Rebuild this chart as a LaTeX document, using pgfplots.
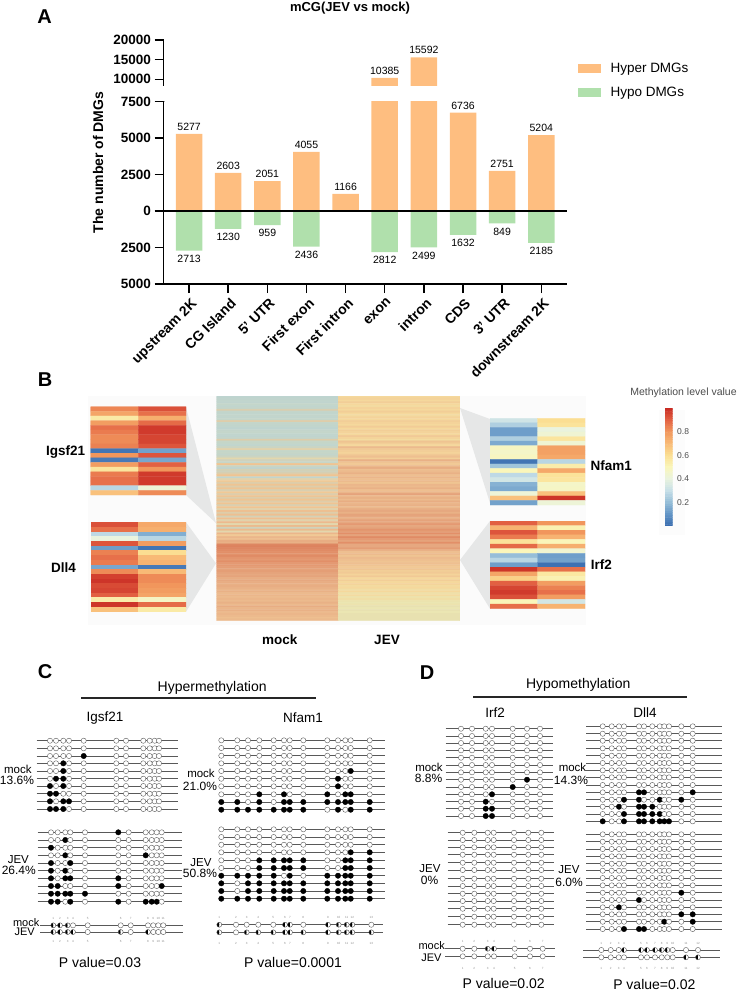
\documentclass[border=0pt]{standalone}
\usepackage{fontspec}
\setmainfont{Liberation Sans}
\usepackage{pgfplots}
\usepackage{pgfplotstable}
\pgfplotsset{compat=1.18,/pgf/number format/assume math mode=true,/pgf/number format/1000 sep={}}
\definecolor{hyper}{RGB}{254,190,128}
\definecolor{hypo}{RGB}{176,224,172}
\definecolor{conn}{RGB}{230,231,231}
\newcommand{\fs}[1]{\fontsize{#1}{#1}\selectfont}
\pgfplotsset{
  colormap={rdylbu}{rgb255=(58,109,176) rgb255=(100,150,198) rgb255=(150,190,216) rgb255=(200,224,232) rgb255=(234,243,222) rgb255=(250,246,186) rgb255=(251,222,146) rgb255=(248,186,118) rgb255=(241,150,92) rgb255=(226,96,66) rgb255=(200,42,34)},
  colormap={muted}{rgb255=(184,210,216) rgb255=(190,212,208) rgb255=(198,214,200) rgb255=(222,205,170) rgb255=(235,230,178) rgb255=(245,216,156) rgb255=(238,191,144) rgb255=(230,168,128) rgb255=(226,143,104) rgb255=(217,122,88) rgb255=(205,100,70)},
  heatax/.style={anchor=north west,scale only axis,hide axis,y dir=reverse,xmin=-0.5,xmax=1.5,point meta min=0,point meta max=1},
  rowline/.style={black!65,line width=.7pt,forget plot},
  meth/.style={only marks,scatter,scatter src=explicit symbolic,forget plot,
    scatter/classes={
      0={mark=*,draw=black!65,fill=white,mark size=2.6pt,line width=.4pt},
      1={mark=*,draw=black,fill=black,mark size=2.7pt},
      2={mark=halfcircle*,draw=black!70,fill=black,mark size=2.5pt,line width=.4pt,rotate=90}}},
}
% reads as rows, CpG sites as columns; 0 open, 1 methylated, 2 partly methylated (summary rows)
\newcommand{\methrows}[4]{%
  \pgfplotstableforeachcolumnelement{r}\of#1\as\yy{%
    \edef\tmp{\noexpand\addplot[rowline] coordinates {(#2,\yy)(#3,\yy)};}\tmp}%
  \foreach \xx [count=\cc] in {#4} {%
    \edef\tmp{\noexpand\addplot[meth] table[x expr=\xx,y=r,meta index=\cc] {\noexpand#1};}\tmp}%
}
\newcommand{\sitenums}[4]{% sites, y above, y below, colour
  \foreach \xx [count=\cc] in {#1} {%
    \edef\tmp{\noexpand\node[font=\noexpand\fs{3},text=#4,inner sep=0pt] at (axis cs:\xx,#2) {\cc};
      \noexpand\node[font=\noexpand\fs{3},text=#4,inner sep=0pt] at (axis cs:\xx,#3) {\cc};}\tmp}%
}
\newcommand{\T}[4]{\node[font=\fs{#3},inner sep=0pt] at (axis cs:#1,#2) {#4};}
\newcommand{\heat}[8]{%
  \begin{axis}[heatax,at={(#1pt,-#2pt)},width=#3pt,height=#4pt,ymin=-0.5,ymax=#5,colormap name=#6]
  \addplot[#8,mesh/cols=2,point meta=explicit] coordinates {#7};
  \end{axis}}

\pgfplotstableread{
r a b c d e f g h i j k
740.7 0 0 0 0 0 0 0 0 0 0 0
748.3 0 0 0 0 0 0 0 0 0 0 0
756.0 0 0 0 0 1 0 0 0 0 0 0
763.3 0 0 1 0 0 0 0 0 0 0 0
771.0 0 0 1 0 0 0 0 0 0 0 0
778.7 0 1 1 0 0 0 0 0 0 0 0
786.0 1 0 1 0 0 0 0 0 0 0 0
793.7 1 1 0 0 0 0 0 0 0 0 0
801.3 1 0 1 1 0 0 0 0 0 0 0
809.0 1 1 1 0 0 0 0 0 0 0 0
}\igsfmock
\pgfplotstableread{
r a b c d e f g h i j k
832.3 0 0 0 0 0 1 0 0 0 0 0
840.0 0 0 1 0 0 0 0 0 0 0 0
847.7 1 0 0 0 0 0 0 0 0 0 0
855.3 0 0 1 0 0 0 0 1 0 0 0
863.0 1 0 0 1 0 0 0 0 0 0 0
870.7 1 0 1 0 0 0 0 0 0 0 0
878.3 1 0 1 1 0 1 0 0 0 0 0
886.0 1 1 0 0 0 1 0 0 0 0 1
893.7 1 1 1 1 1 0 0 0 0 0 0
901.7 1 1 0 1 0 1 0 1 1 1 0
}\igsfjev
\pgfplotstableread{
r a b c d e f g h i j k
925.3 2 2 2 0 0 0 0 0 0 0 0
932.0 2 2 2 2 0 2 0 2 0 0 0
}\igsfsum
\pgfplotstableread{
r a b c d e f g h i j k l m
740.3 0 0 0 0 0 0 0 0 0 0 0 0 0
748.0 0 0 0 0 0 0 0 0 0 0 0 0 0
755.7 0 0 0 0 0 0 0 0 0 0 0 0 0
763.3 0 0 0 0 0 0 0 0 0 0 0 0 0
771.0 0 0 0 0 0 0 0 0 0 0 0 1 0
778.7 0 0 0 0 0 0 0 0 0 1 0 0 0
786.3 0 0 0 0 0 0 0 0 0 1 0 0 0
794.3 0 0 0 1 0 1 0 0 1 0 1 1 0
802.0 1 1 0 1 0 1 1 1 1 1 1 1 1
809.7 1 1 1 1 1 1 1 1 0 1 0 1 1
}\nfammock
\pgfplotstableread{
r a b c d e f g h i j k l m
829.3 0 0 0 0 0 0 0 0 0 0 0 0 0
837.0 0 0 0 0 0 0 0 0 0 0 0 0 0
844.7 0 0 0 0 0 0 0 0 0 0 0 0 0
852.3 0 0 0 0 0 0 0 0 0 0 0 1 1
860.3 0 0 0 1 1 1 1 1 0 0 1 1 1
868.0 0 0 0 1 1 1 1 1 0 0 1 1 1
875.7 1 1 1 1 1 0 1 0 1 1 1 1 1
883.3 1 0 1 1 1 1 1 1 1 1 1 1 1
891.0 1 0 1 1 1 1 1 1 1 1 1 1 1
898.7 1 1 1 1 1 1 1 1 1 1 1 1 1
}\nfamjev
\pgfplotstableread{
r a b c d e f g h i j k l m
924.7 2 0 0 0 0 2 2 0 2 2 2 2 0
932.3 2 0 2 2 2 2 2 2 2 2 2 2 2
}\nfamsum
\pgfplotstableread{
r a b c d e f g
728.7 0 0 0 0 0 0 0
736.0 0 0 0 0 0 0 0
743.0 0 0 0 0 0 0 0
750.3 0 0 0 0 0 0 0
757.7 0 0 0 0 0 0 0
765.0 0 0 0 0 0 0 0
772.3 0 0 0 0 0 0 0
779.7 0 0 0 0 0 1 0
787.0 0 0 0 0 1 0 0
794.3 0 0 0 1 0 0 0
801.7 0 0 1 0 0 0 0
808.7 0 0 1 1 0 0 0
816.0 0 0 1 1 0 0 0
}\irfmock
\pgfplotstableread{
r a b c d e f g
832.7 0 0 0 0 0 0 0
840.0 0 0 0 0 0 0 0
847.3 0 0 0 0 0 0 0
854.7 0 0 0 0 0 0 0
862.7 0 0 0 0 0 0 0
870.0 0 0 0 0 0 0 0
878.7 0 0 0 0 0 0 0
886.0 0 0 0 0 0 0 0
893.7 0 0 0 0 0 0 0
901.0 0 0 0 0 0 0 0
908.7 0 0 0 0 0 0 0
916.7 0 0 0 0 0 0 0
924.7 0 0 0 0 0 0 0
}\irfjev
\pgfplotstableread{
r a b c d e f g
948.7 0 0 2 2 0 0 0
956.3 0 0 0 0 0 0 0
}\irfsum
\pgfplotstableread{
r a b c d e f g h i j k l
726.3 0 0 0 0 0 0 0 0 0 0 0 0
733.7 0 0 0 0 0 0 0 0 0 0 0 0
740.7 0 0 0 0 0 0 0 0 0 0 0 0
748.3 0 0 0 0 0 0 0 0 0 0 0 0
755.7 0 0 0 0 0 0 0 0 0 0 0 0
763.0 0 0 0 0 0 0 0 0 0 0 0 0
770.3 0 0 0 0 0 0 0 0 0 0 0 0
777.3 0 0 0 0 0 0 0 0 0 0 0 0
785.0 0 0 0 0 0 0 0 0 0 0 0 0
792.3 0 0 0 0 1 1 0 0 0 0 0 1
799.7 0 0 0 1 1 0 0 1 0 0 1 0
806.7 0 0 1 0 1 1 1 0 0 0 0 0
814.0 0 0 0 1 1 1 1 1 0 0 0 0
821.3 1 0 0 1 1 1 1 1 1 1 0 0
}\dllmock
\pgfplotstableread{
r a b c d e f g h i j k l
834.3 0 0 0 0 0 0 0 0 0 0 0 0
841.7 0 0 0 0 0 0 0 0 0 0 0 0
849.0 0 0 0 0 0 0 0 0 0 0 0 0
856.3 0 0 0 0 0 0 0 0 0 0 0 0
863.7 0 0 0 0 0 0 0 0 0 0 0 0
870.7 0 0 0 0 0 0 0 0 0 0 0 0
878.0 0 0 0 0 0 0 0 0 0 0 0 0
885.3 0 0 0 0 0 0 0 0 0 0 0 0
892.7 0 0 0 0 0 0 0 0 0 0 1 0
900.0 0 0 0 0 1 0 0 0 0 0 0 0
907.3 0 0 1 0 0 0 0 0 0 0 0 0
914.3 0 0 0 0 0 0 0 0 0 0 1 1
921.7 0 0 0 0 0 0 0 0 1 0 0 1
929.0 0 0 0 1 1 1 0 0 0 0 0 0
}\dlljev
\pgfplotstableread{
r a b c d e f g h i j k l
950.0 0 0 0 2 2 2 2 2 2 0 0 0
957.3 0 0 0 0 0 0 0 0 0 0 2 2
}\dllsum

\begin{document}
\begin{tikzpicture}
\useasboundingbox (0,0) rectangle (743pt,-992pt);
% page overlay, in reference pixels: backgrounds, text, panels C and D
\begin{axis}[anchor=north west,at={(0pt,0pt)},scale only axis,width=743pt,height=992pt,hide axis,
  xmin=0,xmax=743,ymin=0,ymax=992,y dir=reverse,clip=false]
\addplot[fill=black!1.5,draw=none,forget plot] coordinates {(88,396)(586,396)(586,625)(88,625)} -- cycle;
\addplot[fill=black!1,draw=none,forget plot] coordinates {(659,410)(685,410)(685,535)(659,535)} -- cycle;
\addplot[fill=conn,draw=none,forget plot] coordinates {(186,407)(216,523)(186,495)} -- cycle;
\addplot[fill=conn,draw=none,forget plot] coordinates {(186,522.3)(216,563.3)(186,611.7)} -- cycle;
\addplot[fill=conn,draw=none,forget plot] coordinates {(460,408)(490,419)(490,503)} -- cycle;
\addplot[fill=conn,draw=none,forget plot] coordinates {(490,521)(460,560)(490,608.7)} -- cycle;

\T{44.5}{17}{20}{\bfseries A}
\T{45}{380}{20}{\bfseries B}
\T{45}{671.5}{20}{\bfseries C}
\T{427}{673}{20}{\bfseries D}
\T{350}{8}{13}{\bfseries mCG(JEV vs mock)}
\node[rotate=90,font=\fs{14}\bfseries,inner sep=0pt] at (axis cs:98,162.5) {The number of DMGs};

\T{65.7}{452}{13.5}{\bfseries Igsf21}
\T{63.4}{568}{13.5}{\bfseries Dll4}
\T{611.3}{465.7}{13.5}{\bfseries Nfam1}
\T{601.3}{565}{13.5}{\bfseries Irf2}
\T{279.7}{640}{13.5}{\bfseries mock}
\T{387}{640}{13.5}{\bfseries JEV}
\node[font=\fs{10.5},text=black!70,inner sep=0pt] at (axis cs:683.5,392.7) {Methylation level value};

\draw[line width=2pt,black!85] (axis cs:81,697.7) -- (axis cs:316,697.7);
\draw[line width=2pt,black!85] (axis cs:473,697.3) -- (axis cs:686.7,697.3);
\T{212.2}{687.7}{14}{Hypermethylation}
\T{578.2}{685}{14}{Hypomethylation}
\T{105}{717.7}{13.5}{Igsf21}
\T{303}{717.7}{13.5}{Nfam1}
\T{495}{712.7}{13.5}{Irf2}
\T{645}{712.3}{13.5}{Dll4}
\T{100}{962}{14}{P value=0.03}
\T{293}{962}{14}{P value=0.0001}
\T{503.7}{983.5}{14}{P value=0.02}
\T{654.3}{984.5}{14}{P value=0.02}

\T{17.8}{769}{11.5}{mock}
\T{17}{780}{12}{13.6\%}
\T{18.3}{859.3}{11.5}{JEV}
\T{18.8}{870.7}{12}{26.4\%}
\T{201}{773}{11.5}{mock}
\T{200}{786.7}{12}{21.0\%}
\T{201}{862.7}{11.5}{JEV}
\T{200}{873}{12}{50.8\%}
\T{429}{767}{11.5}{mock}
\T{428.5}{778.3}{12}{8.8\%}
\T{430}{869}{11.5}{JEV}
\T{429.5}{880}{12}{0\%}
\T{572.5}{767}{11.5}{mock}
\T{571}{780.7}{12}{14.3\%}
\T{569}{870}{11.5}{JEV}
\T{569}{882.3}{12}{6.0\%}
\node[font=\fs{11},anchor=east,inner sep=0pt] at (axis cs:39.5,923) {mock};
\node[font=\fs{11},anchor=east,inner sep=0pt] at (axis cs:35,932) {JEV};
\node[font=\fs{11},anchor=east,inner sep=0pt] at (axis cs:445,946) {mock};
\node[font=\fs{11},anchor=east,inner sep=0pt] at (axis cs:441.7,957.3) {JEV};

\methrows{\igsfmock}{36.7}{178.3}{50,56,63.3,69,83.7,116.3,126,143.3,149.7,154.7,159}
\methrows{\igsfjev}{37.7}{182.3}{51,57.7,65.3,70.3,85,118.3,128.7,145.7,151.7,156.7,161.7}
\methrows{\igsfsum}{40}{183}{53.3,60,67.7,73,87.7,120.7,130.7,148,153.3,158.3,163.3}
\sitenums{53.3,60,67.7,73,87.7,120.7,130.7,148,153.3,158.3,163.3}{918.7}{941.7}{black!45}
\methrows{\nfammock}{221}{385}{221.3,237.3,248,259.3,273.7,284,289.7,303.3,327.3,338,345.3,350.7,369.7}
\methrows{\nfamjev}{221}{385}{221.3,237.3,248,259.3,273.7,284,289.7,303.3,327.3,338,345.3,350.7,369.7}
\methrows{\nfamsum}{216.7}{382.7}{219.3,236,246.7,258.3,273.3,285,290,303.3,328,338.7,346.7,352.3,371.3}
\sitenums{219.3,236,246.7,258.3,273.3,285,290,303.3,328,338.7,346.7,352.3,371.3}{917}{943}{black!45}
\methrows{\irfmock}{445.7}{552.7}{461,472,485.7,492,512.7,527,540}
\methrows{\irfjev}{447.7}{554}{462.7,474.3,487.7,493.7,514,528.3,541.3}
\methrows{\irfsum}{445}{555}{462.7,474.3,487.7,494,514.7,530,542.7}
\sitenums{462.7,474.3,487.7,494,514.7,530,542.7}{941}{968.3}{black!45}
\methrows{\dllmock}{586}{722.3}{602.7,611.7,619,624,639,644,652.3,659.7,664.3,669,681.3,692.7}
\methrows{\dlljev}{586}{722.3}{602.7,611.7,619,624,639,644,652.3,659.7,664.3,669,681.3,692.7}
\methrows{\dllsum}{583}{720}{601.3,610.7,618.7,624,641,647,655,661.7,667.3,672.7,686,698}
\sitenums{601.3,610.7,618.7,624,641,647,655,661.7,667.3,672.7,686,698}{943.3}{968.7}{black!45}
\end{axis}

% panel A, upper part of the broken axis
\begin{axis}[anchor=north west,at={(163.5pt,-40pt)},scale only axis,width=403.9pt,height=46pt,
  xmin=-0.654,xmax=9.668,ymin=8300,ymax=20000,axis y line*=left,axis x line=none,
  ytick={10000,15000,20000},yticklabels={10000,15000,20000},scaled y ticks=false,
  tick align=outside,major tick length=9pt,tick style={black,line width=1.5pt},
  axis line style={line width=1.5pt},y tick label style={font=\fs{13.5}\bfseries},
  ybar,bar width=26.5pt,
  nodes near coords,nodes near coords style={font=\fs{10.5},black},point meta=y]
\addplot[fill=hyper,draw=none,bar shift=0pt] coordinates {(5,10385) (6,15592)};
\draw[line width=1.5pt] (rel axis cs:0,0) ++(-5pt,0) -- ++(10pt,0);
\end{axis}

% panel A, lower part
\begin{axis}[anchor=north west,at={(163.5pt,-101.5pt)},scale only axis,width=403.9pt,height=182.5pt,
  xmin=-0.654,xmax=9.668,ymin=-5000,ymax=7500,axis lines*=left,
  ytick={-5000,-2500,0,2500,5000,7500},yticklabels={5000,2500,0,2500,5000,7500},
  xtick={0,...,9},xticklabels={upstream 2K,CG Island,5' UTR,First exon,First intron,exon,intron,CDS,3' UTR,downstream 2K},
  x tick label style={rotate=45,anchor=north east,font=\fs{14}\bfseries,inner sep=1pt,yshift=-3pt,xshift=-1pt},
  y tick label style={font=\fs{13.5}\bfseries},
  tick align=outside,major tick length=9pt,tick style={black,line width=1.5pt},
  axis line style={line width=1.5pt},
  ybar,bar width=26.5pt,
  legend style={at={(1.026,1.222)},anchor=north west,draw=none,fill=none,font=\fs{13.5},row sep=9pt,inner sep=0pt},
  legend cell align=left]
\addlegendimage{legend image code/.code={\fill[hyper] (0pt,-4pt) rectangle (22pt,4pt);}}
\addlegendimage{legend image code/.code={\fill[hypo] (0pt,-4pt) rectangle (22pt,4pt);}}
\addlegendentry{\hspace*{8pt}Hyper DMGs}
\addlegendentry{\hspace*{8pt}Hypo DMGs}
\addplot[fill=hyper,draw=none,bar shift=0pt,forget plot,point meta=y,
  nodes near coords,nodes near coords style={font=\fs{10.5},black}] coordinates
  {(0,5277) (1,2603) (2,2051) (3,4055) (4,1166) (7,6736) (8,2751) (9,5204)};
\addplot[fill=hyper,draw=none,bar shift=0pt,forget plot] coordinates {(5,10385) (6,15592)};
\addplot[fill=hypo,draw=none,bar shift=0pt,forget plot,point meta=explicit,
  nodes near coords,nodes near coords align={anchor=north},nodes near coords style={font=\fs{10.5},black,anchor=north,yshift=-1pt}] coordinates
  {(0,-2713)[2713] (1,-1230)[1230] (2,-959)[959] (3,-2436)[2436] (5,-2812)[2812] (6,-2499)[2499] (7,-1632)[1632] (8,-849)[849] (9,-2185)[2185]};
\draw[line width=2pt] (rel axis cs:0,0.4) -- (rel axis cs:1,0.4);
\draw[line width=1.5pt] (rel axis cs:0,1) -- ++(5pt,0);
\end{axis}

% panel B, main heatmap, rows top to bottom
\heat{216.6}{396}{243.2}{224.7}{119.5}{muted}{
(0,0)[.10](1,0)[.50] (0,1)[.12](1,1)[.52] (0,2)[.14](1,2)[.50] (0,3)[.12](1,3)[.54] (0,4)[.18](1,4)[.50]
(0,5)[.14](1,5)[.48] (0,6)[.16](1,6)[.52] (0,7)[.28](1,7)[.50] (0,8)[.16](1,8)[.54] (0,9)[.14](1,9)[.50]
(0,10)[.16](1,10)[.48] (0,11)[.14](1,11)[.52] (0,12)[.18](1,12)[.50] (0,13)[.30](1,13)[.54] (0,14)[.18](1,14)[.52]
(0,15)[.16](1,15)[.50] (0,16)[.14](1,16)[.55] (0,17)[.10](1,17)[.50] (0,18)[.16](1,18)[.54] (0,19)[.18](1,19)[.52]
(0,20)[.14](1,20)[.50] (0,21)[.12](1,21)[.56] (0,22)[.16](1,22)[.52] (0,23)[.30](1,23)[.48] (0,24)[.20](1,24)[.58]
(0,25)[.18](1,25)[.54] (0,26)[.14](1,26)[.50] (0,27)[.22](1,27)[.62] (0,28)[.32](1,28)[.56] (0,29)[.18](1,29)[.54]
(0,30)[.20](1,30)[.52] (0,31)[.16](1,31)[.56] (0,32)[.22](1,32)[.60] (0,33)[.34](1,33)[.54] (0,34)[.24](1,34)[.66]
(0,35)[.20](1,35)[.58] (0,36)[.58](1,36)[.56] (0,37)[.22](1,37)[.62] (0,38)[.12](1,38)[.68] (0,39)[.26](1,39)[.60]
(0,40)[.24](1,40)[.62] (0,41)[.30](1,41)[.66] (0,42)[.58](1,42)[.60] (0,43)[.14](1,43)[.64] (0,44)[.32](1,44)[.60]
(0,45)[.56](1,45)[.62] (0,46)[.30](1,46)[.58] (0,47)[.58](1,47)[.64] (0,48)[.30](1,48)[.62] (0,49)[.58](1,49)[.66]
(0,50)[.28](1,50)[.60] (0,51)[.56](1,51)[.64] (0,52)[.30](1,52)[.72] (0,53)[.58](1,53)[.62] (0,54)[.30](1,54)[.66]
(0,55)[.58](1,55)[.62] (0,56)[.30](1,56)[.68] (0,57)[.58](1,57)[.64] (0,58)[.28](1,58)[.66] (0,59)[.58](1,59)[.62]
(0,60)[.32](1,60)[.68] (0,61)[.60](1,61)[.70] (0,62)[.30](1,62)[.66] (0,63)[.60](1,63)[.72] (0,64)[.26](1,64)[.70]
(0,65)[.60](1,65)[.66] (0,66)[.32](1,66)[.72] (0,67)[.62](1,67)[.70] (0,68)[.34](1,68)[.76] (0,69)[.62](1,69)[.70]
(0,70)[.24](1,70)[.72] (0,71)[.62](1,71)[.78] (0,72)[.34](1,72)[.74] (0,73)[.64](1,73)[.80] (0,74)[.56](1,74)[.72]
(0,75)[.64](1,75)[.82] (0,76)[.60](1,76)[.76] (0,77)[.68](1,77)[.72] (0,78)[.66](1,78)[.80] (0,79)[.84](1,79)[.70]
(0,80)[.86](1,80)[.70] (0,81)[.84](1,81)[.74] (0,82)[.82](1,82)[.66] (0,83)[.80](1,83)[.60] (0,84)[.78](1,84)[.62]
(0,85)[.82](1,85)[.58] (0,86)[.78](1,86)[.62] (0,87)[.76](1,87)[.60] (0,88)[.80](1,88)[.58] (0,89)[.76](1,89)[.60]
(0,90)[.76](1,90)[.58] (0,91)[.74](1,91)[.56] (0,92)[.72](1,92)[.58] (0,93)[.74](1,93)[.54] (0,94)[.72](1,94)[.56]
(0,95)[.70](1,95)[.52] (0,96)[.72](1,96)[.56] (0,97)[.68](1,97)[.50] (0,98)[.70](1,98)[.54] (0,99)[.68](1,99)[.50]
(0,100)[.66](1,100)[.52] (0,101)[.68](1,101)[.48] (0,102)[.66](1,102)[.50] (0,103)[.64](1,103)[.46] (0,104)[.66](1,104)[.50]
(0,105)[.62](1,105)[.44] (0,106)[.64](1,106)[.48] (0,107)[.62](1,107)[.43] (0,108)[.64](1,108)[.46] (0,109)[.62](1,109)[.42]
(0,110)[.66](1,110)[.40] (0,111)[.62](1,111)[.42] (0,112)[.68](1,112)[.38] (0,113)[.64](1,113)[.40] (0,114)[.66](1,114)[.38]
(0,115)[.62](1,115)[.40] (0,116)[.64](1,116)[.38] (0,117)[.62](1,117)[.38] (0,118)[.60](1,118)[.38] (0,119)[.62](1,119)[.38]
}{matrix plot*}
% panel B, gene heatmaps
\heat{90.7}{406.7}{95.3}{88.3}{18.5}{rdylbu}{
(0,0)[.83](1,0)[.93] (0,1)[.76](1,1)[.87] (0,2)[.55](1,2)[.73] (0,3)[.78](1,3)[.88] (0,4)[.87](1,4)[.97]
(0,5)[.85](1,5)[.97] (0,6)[.82](1,6)[.95] (0,7)[.82](1,7)[.95] (0,8)[.84](1,8)[.92] (0,9)[.02](1,9)[.13]
(0,10)[.80](1,10)[.92] (0,11)[.03](1,11)[.14] (0,12)[.78](1,12)[.90] (0,13)[.57](1,13)[.80] (0,14)[.85](1,14)[.97]
(0,15)[.87](1,15)[.97] (0,16)[.87](1,16)[.97] (0,17)[.27](1,17)[.42] (0,18)[.68](1,18)[.82]}{matrix plot,faceted color=black!25,line width=.25pt}
\heat{90.7}{522.3}{95.3}{89.4}{18.5}{rdylbu}{
(0,0)[.93](1,0)[.75] (0,1)[.87](1,1)[.73] (0,2)[.28](1,2)[.16] (0,3)[.40](1,3)[.27] (0,4)[.92](1,4)[.78]
(0,5)[.12](1,5)[.02] (0,6)[.84](1,6)[.60] (0,7)[.87](1,7)[.70] (0,8)[.85](1,8)[.72] (0,9)[.14](1,9)[.03]
(0,10)[.82](1,10)[.70] (0,11)[.96](1,11)[.82] (0,12)[.98](1,12)[.82] (0,13)[.94](1,13)[.80] (0,14)[.95](1,14)[.78]
(0,15)[.90](1,15)[.76] (0,16)[.54](1,16)[.47] (0,17)[.98](1,17)[.88] (0,18)[.68](1,18)[.55]}{matrix plot,faceted color=black!25,line width=.25pt}
\heat{490}{418.3}{95}{86.7}{18.5}{rdylbu}{
(0,0)[.32](1,0)[.60] (0,1)[.25](1,1)[.58] (0,2)[.12](1,2)[.40] (0,3)[.12](1,3)[.43] (0,4)[.25](1,4)[.57]
(0,5)[.15](1,5)[.43] (0,6)[.48](1,6)[.77] (0,7)[.46](1,7)[.77] (0,8)[.48](1,8)[.75] (0,9)[.02](1,9)[.27]
(0,10)[.22](1,10)[.54] (0,11)[.50](1,11)[.75] (0,12)[.28](1,12)[.58] (0,13)[.33](1,13)[.57] (0,14)[.17](1,14)[.46]
(0,15)[.15](1,15)[.47] (0,16)[.42](1,16)[.68] (0,17)[.68](1,17)[.98] (0,18)[.13](1,18)[.42]}{matrix plot,faceted color=black!25,line width=.25pt}
\heat{490}{521}{95}{87.7}{18.5}{rdylbu}{
(0,0)[.90](1,0)[.80] (0,1)[.72](1,1)[.52] (0,2)[.92](1,2)[.80] (0,3)[.85](1,3)[.72] (0,4)[.58](1,4)[.50]
(0,5)[.88](1,5)[.73] (0,6)[.50](1,6)[.44] (0,7)[.20](1,7)[.12] (0,8)[.27](1,8)[.13] (0,9)[.12](1,9)[.01]
(0,10)[.98](1,10)[.87] (0,11)[.76](1,11)[.56] (0,12)[.64](1,12)[.52] (0,13)[.90](1,13)[.78] (0,14)[.95](1,14)[.84]
(0,15)[.97](1,15)[.87] (0,16)[.93](1,16)[.78] (0,17)[.50](1,17)[.33] (0,18)[.87](1,18)[.72]}{matrix plot,faceted color=black!25,line width=.25pt}
% colour scale
\begin{axis}[anchor=north west,at={(665pt,-408pt)},scale only axis,width=7.7pt,height=117.7pt,
  xmin=-0.5,xmax=1.5,ymin=0,ymax=1,xtick=\empty,axis line style={draw=none},tick style={draw=none},
  ytick={.2,.4,.6,.8},yticklabels={0.2,0.4,0.6,0.8},ytick pos=right,
  y tick label style={font=\fs{8.5},text=black!70,xshift=1pt},
  colormap name=rdylbu,point meta min=0,point meta max=1]
\addplot[matrix plot*,mesh/cols=2,point meta=explicit] coordinates {
(0,0)[0](1,0)[0] (0,.02)[.02](1,.02)[.02] (0,.04)[.04](1,.04)[.04] (0,.06)[.06](1,.06)[.06] (0,.08)[.08](1,.08)[.08]
(0,.10)[.10](1,.10)[.10] (0,.12)[.12](1,.12)[.12] (0,.14)[.14](1,.14)[.14] (0,.16)[.16](1,.16)[.16] (0,.18)[.18](1,.18)[.18]
(0,.20)[.20](1,.20)[.20] (0,.22)[.22](1,.22)[.22] (0,.24)[.24](1,.24)[.24] (0,.26)[.26](1,.26)[.26] (0,.28)[.28](1,.28)[.28]
(0,.30)[.30](1,.30)[.30] (0,.32)[.32](1,.32)[.32] (0,.34)[.34](1,.34)[.34] (0,.36)[.36](1,.36)[.36] (0,.38)[.38](1,.38)[.38]
(0,.40)[.40](1,.40)[.40] (0,.42)[.42](1,.42)[.42] (0,.44)[.44](1,.44)[.44] (0,.46)[.46](1,.46)[.46] (0,.48)[.48](1,.48)[.48]
(0,.50)[.50](1,.50)[.50] (0,.52)[.52](1,.52)[.52] (0,.54)[.54](1,.54)[.54] (0,.56)[.56](1,.56)[.56] (0,.58)[.58](1,.58)[.58]
(0,.60)[.60](1,.60)[.60] (0,.62)[.62](1,.62)[.62] (0,.64)[.64](1,.64)[.64] (0,.66)[.66](1,.66)[.66] (0,.68)[.68](1,.68)[.68]
(0,.70)[.70](1,.70)[.70] (0,.72)[.72](1,.72)[.72] (0,.74)[.74](1,.74)[.74] (0,.76)[.76](1,.76)[.76] (0,.78)[.78](1,.78)[.78]
(0,.80)[.80](1,.80)[.80] (0,.82)[.82](1,.82)[.82] (0,.84)[.84](1,.84)[.84] (0,.86)[.86](1,.86)[.86] (0,.88)[.88](1,.88)[.88]
(0,.90)[.90](1,.90)[.90] (0,.92)[.92](1,.92)[.92] (0,.94)[.94](1,.94)[.94] (0,.96)[.96](1,.96)[.96] (0,.98)[.98](1,.98)[.98]
(0,1)[1](1,1)[1]};
\end{axis}
\end{tikzpicture}
\end{document}
